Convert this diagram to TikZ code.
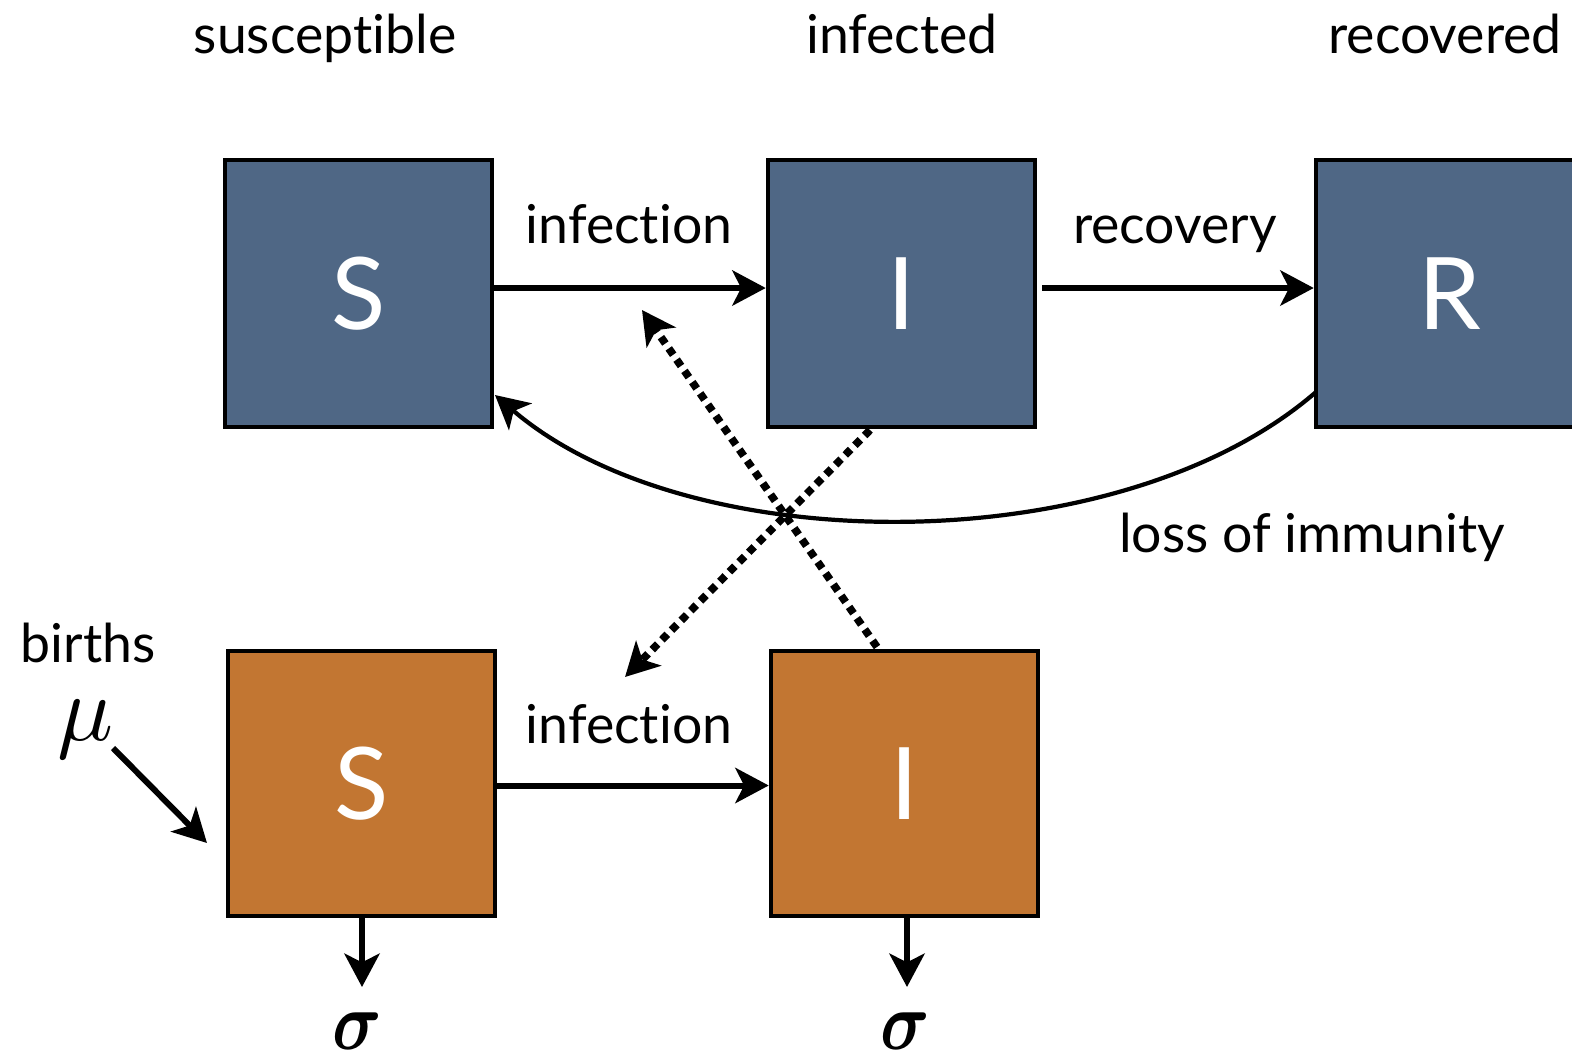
\documentclass[tikz,border=0pt]{standalone}
\usepackage{amsmath,amssymb}
\usepackage{graphicx}
\usepackage{fontspec}
\setmainfont{Lato}[Ligatures=NoCommon]
\usetikzlibrary{arrows.meta}
\definecolor{bluebox}{HTML}{4F6785}
\definecolor{orangebox}{HTML}{C27632}
\tikzset{
  box/.style={draw=black, line width=2.6pt, minimum width=5.34cm, minimum height=5.34cm, inner sep=0pt, text=white, font=\fontsize{57}{60}\selectfont},
  bluebx/.style={box, fill=bluebox},
  orangebx/.style={box, fill=orangebox, minimum height=5.3cm},
  lbl/.style={font=\fontsize{30.5}{34}\selectfont, inner sep=0pt, anchor=base},
  tip/.style={-{Stealth[length=19pt, width=20pt, inset=5pt]}},
  flow/.style={line width=3.4pt, tip},
  curveflow/.style={line width=2.4pt, tip},
  dotflow/.style={line width=4.4pt, dash pattern=on 4.4pt off 3.4pt, tip},
  greek/.style={inner sep=0pt}
}
\begin{document}
\begin{tikzpicture}[x=0.02cm, y=-0.02cm]
\useasboundingbox (0,0) rectangle (1572,1063);
% headers
\node[lbl] (hs) at (325,53) {susceptible};
\node[lbl] (hi) at (902,53) {infected};
\node[lbl] (hr) at (1445,53) {recovered};
% boxes
\node[bluebx] (Sb) at (358.5,293.5) {S};
\node[bluebx] (Ib) at (901.5,293.5) {I};
\node[bluebx] (Rb) at (1449.5,293.5) {R};
\node[orangebx] (So) at (361.5,783.5) {S};
\node[orangebx] (Io) at (904.5,783.5) {I};
% arrows top
\draw[flow] ([yshift=0.11cm]Sb.east) -- ([yshift=0.11cm]Ib.west);
\node[lbl] (inf1) at (629,243) {infection};
\draw[flow] ([xshift=0.1cm,yshift=0.11cm]Ib.east) -- ([yshift=0.11cm]Rb.west);
\node[lbl] (rec) at (1175,243) {recovery};
% loss of immunity
\coordinate (rl) at (1316,392);
\coordinate (sr) at (495,395);
\draw[curveflow] (rl) .. controls (1120,562) and (690,562) .. (sr);
\node[lbl] (loss) at (1312,552) {loss of immunity};
% dotted cross
\coordinate (d1s) at (870,430);
\coordinate (d1e) at (625,677);
\coordinate (d2s) at (877,647);
\coordinate (d2e) at (642,310);
\draw[dotflow] (d1s) -- (d1e);
\draw[dotflow] (d2s) -- (d2e);
% bottom
\draw[flow] ([yshift=-0.04cm]So.east) -- ([yshift=-0.04cm]Io.west);
\node[lbl] (inf2) at (629,743) {infection};
\node[lbl] (births) at (88,662) {births};
\node[greek] (mu) at (86,729) {\scalebox{5.3}{$\mu$}};
\coordinate (ma) at (113,748);
\coordinate (mb) at (207,843);
\draw[flow] (ma) -- (mb);
\node[greek] (sg1) at (357,1031) {\scalebox{3.9}[4.7]{$\boldsymbol{\sigma}$}};
\node[greek] (sg2) at (905,1031) {\scalebox{3.9}[4.7]{$\boldsymbol{\sigma}$}};
\coordinate (sgA) at (362,987);
\coordinate (sgB) at (907,987);
\draw[flow] (So.south -| sgA) -- (sgA);
\draw[flow] (Io.south -| sgB) -- (sgB);
\end{tikzpicture}
\end{document}
